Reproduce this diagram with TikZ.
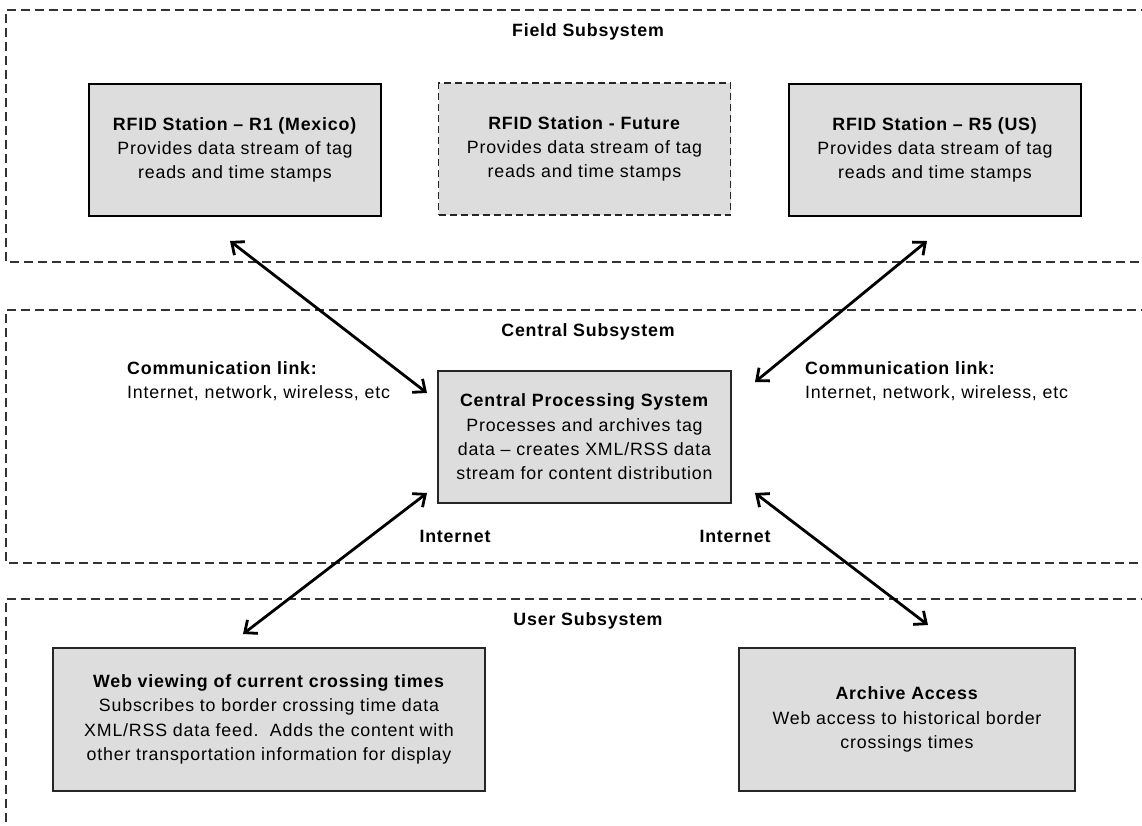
\documentclass[tikz,border=0pt]{standalone}
\usepackage{fontspec}
\setmainfont{Liberation Sans}[LetterSpace=4.5]
\usetikzlibrary{arrows.meta}
\definecolor{boxgray}{RGB}{221,221,221}
\tikzset{
  subsys/.style={draw=black!80, line width=1.2pt, dash pattern=on 9pt off 5pt},
  stationbox/.style={draw=black, line width=2.6pt, fill=boxgray, minimum width=292pt, minimum height=132pt, inner sep=0pt},
  plainbox/.style={draw=black!85, line width=1.3pt, fill=boxgray, inner sep=0pt},
  futurebox/.style={draw=black!85, line width=1.2pt, dash pattern=on 7pt off 4pt, fill=boxgray, minimum width=292pt, minimum height=132pt, inner sep=0pt},
  boxtext/.style={align=center, font=\fontsize{17.8}{24.3}\selectfont, inner sep=0pt},
  titletext/.style={font=\fontsize{17.8}{24}\selectfont\bfseries, inner sep=0pt},
  linktext/.style={align=left, anchor=west, font=\fontsize{17.8}{24.3}\selectfont, inner sep=0pt},
  link/.style={line width=2.8pt, {Straight Barb[length=10pt,width=17pt,line width=2.8pt]}-{Straight Barb[length=10pt,width=17pt,line width=2.8pt]}}
}
\begin{document}
\begin{tikzpicture}[x=1pt,y=-1pt]
\useasboundingbox (0,0) rectangle (1142,825);
\fill[white] (0,0) rectangle (1142,825);
% subsystem frames
\draw[subsys] (1150,10) -- (6,10) -- (6,262) -- (1150,262);
\draw[subsys] (1150,310) -- (6,310) -- (6,563) -- (1150,563);
\draw[subsys] (1150,599) -- (6,599) -- (6,830);
% titles
\node[titletext] (tfield) at (588,32) {Field Subsystem};
\node[titletext] (tcentral) at (588,332) {Central Subsystem};
\node[titletext] (tuser) at (588,621) {User Subsystem};
% field boxes
\node[stationbox] (r1) at (235,150) {};
\node[boxtext] (r1t) at (r1) {\textbf{RFID Station -- R1 (Mexico)}\\Provides data stream of tag\\reads and time stamps};
\node[futurebox] (fut) at (584.5,149) {};
\node[boxtext] (futt) at (fut) {\textbf{RFID Station - Future}\\Provides data stream of tag\\reads and time stamps};
\node[stationbox] (r5) at (935,150) {};
\node[boxtext] (r5t) at (r5) {\textbf{RFID Station -- R5 (US)}\\Provides data stream of tag\\reads and time stamps};
% central
\node[plainbox, minimum width=293pt, minimum height=132pt] (cps) at (584.5,437) {};
\node[boxtext] (cpst) at (cps) {\textbf{Central Processing System}\\Processes and archives tag\\data -- creates XML/RSS data\\stream for content distribution};
\node[linktext] (cl) at (127,381) {\textbf{Communication link:}\\Internet, network, wireless, etc};
\node[linktext] (cr) at (805,381) {\textbf{Communication link:}\\Internet, network, wireless, etc};
\node[titletext] (inl) at (455,536) {Internet};
\node[titletext] (inr) at (735,536) {Internet};
% user
\node[plainbox, minimum width=432pt, minimum height=143pt] (web) at (269,719.5) {};
\node[boxtext] (webt) at (web) {\textbf{Web viewing of current crossing times}\\Subscribes to border crossing time data\\XML/RSS data feed.\ \ Adds the content with\\other transportation information for display};
\node[plainbox, minimum width=336pt, minimum height=143pt] (arc) at (907,719.5) {};
\node[boxtext] (arct) at (arc) {\textbf{Archive Access}\\Web access to historical border\\crossings times};
% connector ends
\coordinate (a1s) at (230,241);
\coordinate (a1e) at (427,393);
\coordinate (a2s) at (927,241);
\coordinate (a2e) at (755,382);
\coordinate (a3s) at (427,493);
\coordinate (a3e) at (243,634);
\coordinate (a4s) at (755,493);
\coordinate (a4e) at (928,625);
\draw[link] (a1s) -- (a1e);
\draw[link] (a2s) -- (a2e);
\draw[link] (a3s) -- (a3e);
\draw[link] (a4s) -- (a4e);
\end{tikzpicture}
\end{document}
